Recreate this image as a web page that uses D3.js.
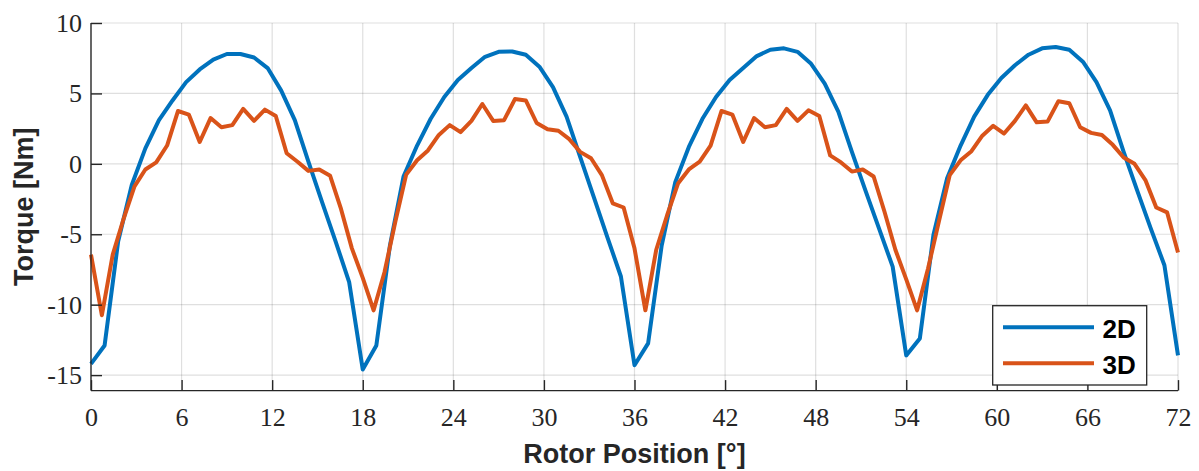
<!DOCTYPE html>
<html>
<head>
<meta charset="utf-8">
<script src="https://cdn.jsdelivr.net/npm/d3@7"></script>
<style>
  html, body { margin: 0; padding: 0; background: #fff; }
  svg { display: block; }
  .tick text { font-family: "Liberation Serif", "DejaVu Serif", serif; font-size: 26px; fill: #262626; }
</style>
</head>
<body>
<svg id="chart" width="1199" height="471"></svg>
<script>
// Torque vs rotor position, 2D and 3D FE results
const seriesNames = ["2D", "3D"];
const seriesColors = ["#0072BD", "#D95319"];

// 2D model: sampled every 0.9° from 0° to 72°
const step2D = 0.9;
const torque2D = [
  -14.2, -12.9, -5.5, -1.5, 1.1, 3.1, 4.5, 5.8, 6.7, 7.4, 7.8, 7.8, 7.55, 6.8, 5.2, 3.1, 0.15, -2.7, -5.5, -8.4, -14.6,
  -12.9, -5.8, -0.9, 1.3, 3.2, 4.75, 5.95, 6.8, 7.6, 7.95, 7.98, 7.75, 6.9, 5.45, 3.35, 0.5, -2.35, -5.2, -8.0, -14.3,
  -12.75, -5.8, -1.3, 1.2, 3.2, 4.75, 5.95, 6.8, 7.65, 8.1, 8.2, 7.95, 7.1, 5.7, 3.7, 0.85, -1.9, -4.6, -7.3, -13.6,
  -12.4, -5.05, -1.05, 1.3, 3.35, 4.9, 6.1, 7.0, 7.75, 8.2, 8.3, 8.1, 7.25, 5.8, 3.8, 0.85, -1.9, -4.6, -7.2, -13.6
];

// 3D model: sampled every 0.72° from 0° to 72°
const step3D = 0.72;
const torque3D = [
  -6.45, -10.75, -6.45, -3.9, -1.6, -0.4, 0.1, 1.3, 3.75, 3.5, 1.55, 3.25, 2.6, 2.75, 3.9, 3.05, 3.85, 3.4, 0.75, 0.15, -0.5, -0.4, -0.85, -3.2, -6.0, -8.1,
  -10.4, -7.7, -4.1, -0.75, 0.25, 0.95, 2.05, 2.75, 2.25, 3.05, 4.25, 3.05, 3.1, 4.6, 4.5, 2.9, 2.45, 2.35, 1.75, 0.85, 0.4, -0.8, -2.8, -3.1, -6.0,
  -10.4, -6.1, -3.65, -1.4, -0.4, 0.15, 1.3, 3.75, 3.5, 1.55, 3.25, 2.6, 2.75, 3.9, 3.05, 3.8, 3.4, 0.6, 0.1, -0.55, -0.4, -0.9, -3.4, -6.1, -8.2,
  -10.4, -7.45, -4.1, -0.8, 0.25, 0.9, 2.0, 2.7, 2.15, 3.05, 4.15, 2.95, 3.0, 4.45, 4.3, 2.6, 2.2, 2.05, 1.35, 0.45, 0.0, -1.15, -3.1, -3.45, -6.3
];

const xTicks = [0, 6, 12, 18, 24, 30, 36, 42, 48, 54, 60, 66, 72];
const yTicks = [-15, -10, -5, 0, 5, 10];
const xTitle = "Rotor Position [°]";
const yTitle = "Torque [Nm]";

const plot = { left: 91, right: 1178, top: 23, bottom: 390.6 };
const axisColor = "#262626";

const svg = d3.select("#chart");
const x = d3.scaleLinear().domain([0, 72]).range([plot.left, plot.right]);
const y = d3.scaleLinear().domain([-16.1, 10]).range([plot.bottom, plot.top]);

// grid
const grid = svg.append("g").attr("stroke", "rgba(38,38,38,0.15)").attr("stroke-width", 1.2);
grid.selectAll("line.gx").data(xTicks.filter(d => d > 0)).join("line")
  .attr("x1", d => x(d)).attr("x2", d => x(d))
  .attr("y1", plot.top).attr("y2", plot.bottom);
grid.selectAll("line.gy").data(yTicks).join("line")
  .attr("y1", d => y(d)).attr("y2", d => y(d))
  .attr("x1", plot.left).attr("x2", plot.right);

// series
const toPoints = (vals, step) => vals.map((v, i) => [i * step, v]);
const series = [toPoints(torque2D, step2D), toPoints(torque3D, step3D)];
const line = d3.line().x(d => x(d[0])).y(d => y(d[1]));
svg.append("g").selectAll("path").data(series).join("path")
  .attr("d", line)
  .attr("fill", "none")
  .attr("stroke", (d, i) => seriesColors[i])
  .attr("stroke-width", 4)
  .attr("stroke-linejoin", "round");

// axes (ticks pointing inward)
const xAxis = d3.axisBottom(x).tickValues(xTicks).tickFormat(d3.format("d"))
  .tickSizeInner(-10.5).tickSizeOuter(0).tickPadding(16.5);
const yAxis = d3.axisLeft(y).tickValues(yTicks).tickFormat(d => d < 0 ? "-" + Math.abs(d) : String(d))
  .tickSizeInner(-11).tickSizeOuter(0).tickPadding(9);

const gx = svg.append("g").attr("transform", `translate(0,${plot.bottom})`).call(xAxis);
const gy = svg.append("g").attr("transform", `translate(${plot.left},0)`).call(yAxis);
[gx, gy].forEach(g => {
  g.select(".domain").attr("stroke", axisColor).attr("stroke-width", 1.4);
  g.selectAll(".tick line").attr("stroke", axisColor).attr("stroke-width", 1.4);
});
// left axis runs the full height, bottom axis the full width
gy.select(".domain").attr("d", `M0,${plot.bottom}V${plot.top}`);
gx.select(".domain").attr("d", `M${plot.left},0H${plot.right}`);

// axis titles
svg.append("text")
  .attr("x", (plot.left + plot.right) / 2).attr("y", 463)
  .attr("text-anchor", "middle")
  .attr("font-family", "'Liberation Sans', Arial, sans-serif")
  .attr("font-weight", "bold").attr("font-size", 27).attr("fill", axisColor)
  .text(xTitle);
svg.append("text")
  .attr("transform", `translate(33,${(plot.top + plot.bottom) / 2}) rotate(-90)`)
  .attr("text-anchor", "middle")
  .attr("font-family", "'Liberation Sans', Arial, sans-serif")
  .attr("font-weight", "bold").attr("font-size", 27).attr("fill", axisColor)
  .text(yTitle);

// legend
const legend = svg.append("g");
legend.append("rect")
  .attr("x", 992.7).attr("y", 305.7).attr("width", 154).attr("height", 79.3)
  .attr("fill", "#fff").attr("stroke", axisColor).attr("stroke-width", 1.3);
const rows = legend.selectAll("g.row").data(seriesNames).join("g")
  .attr("transform", (d, i) => `translate(0,${327.3 + i * 36})`);
rows.append("line")
  .attr("x1", 1003).attr("x2", 1094).attr("y1", 0).attr("y2", 0)
  .attr("stroke", (d, i) => seriesColors[i]).attr("stroke-width", 4);
rows.append("text")
  .attr("x", 1102.5).attr("y", 10.5)
  .attr("font-family", "'Liberation Sans', Arial, sans-serif")
  .attr("font-weight", "bold").attr("font-size", 26).attr("fill", "#000")
  .text(d => d);
</script>
</body>
</html>
